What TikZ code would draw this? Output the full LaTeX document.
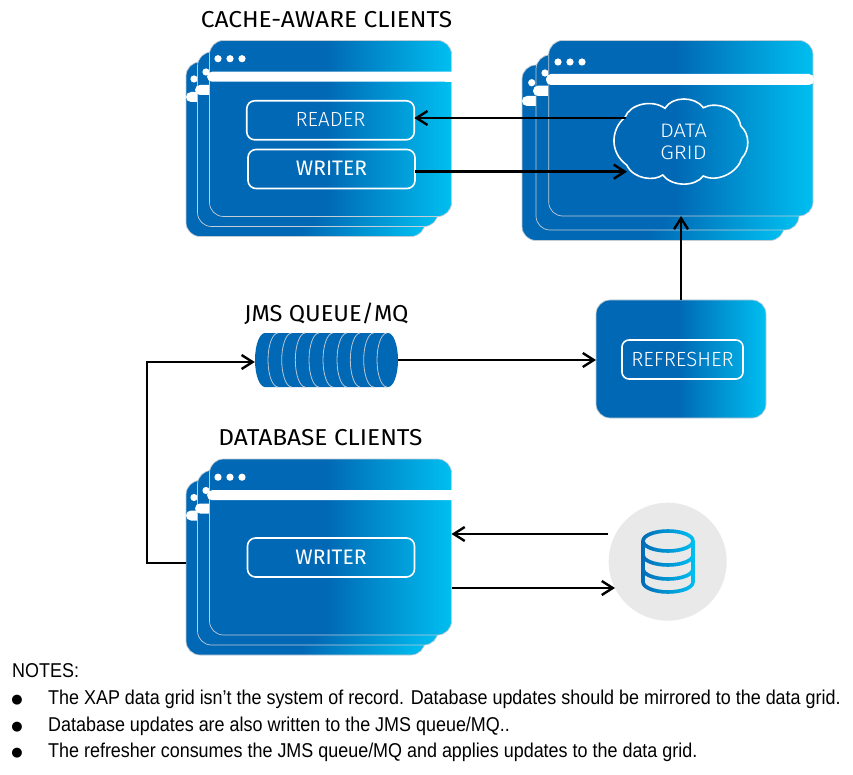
\documentclass[tikz,border=0pt]{standalone}
\usepackage{fontspec}
\setmainfont{Fira Sans}
\newfontfamily\notefont[FakeStretch=0.897]{Liberation Sans}
\newfontfamily\bulletfont{DejaVu Sans}
\newfontfamily\titlefont[FakeStretch=1.065]{Fira Sans}
\newfontfamily\lightfont{Fira Sans Light}
\newfontfamily\cloudfont[FakeStretch=1.12]{Fira Sans Light}
\usetikzlibrary{arrows.meta}
\definecolor{cardblue}{HTML}{0068B5}
\definecolor{cardcyan}{HTML}{00BFF0}
\definecolor{cardedge}{HTML}{C4CDD6}
\definecolor{ringline}{HTML}{B9C6D2}
\definecolor{dbcircle}{HTML}{E9E9E9}
\pgfdeclarehorizontalshading{cardgrad}{100bp}{
  color(0bp)=(cardblue); color(25bp)=(cardblue); color(49bp)=(cardblue);
  color(75bp)=(cardcyan); color(100bp)=(cardcyan)}
\tikzset{
  cardbox/.style={rectangle,rounded corners=14pt,shading=cardgrad,draw=cardedge,line width=0.7pt,inner sep=0pt,outer sep=0pt},
  innerbox/.style={rectangle,rounded corners=8pt,draw=white,line width=1.6pt,text=white,inner sep=0pt,outer sep=0pt,font=\fontsize{21}{24}\selectfont},
  lightbox/.style={innerbox,font=\lightfont\fontsize{20.5}{24}\selectfont},
  titletext/.style={inner sep=0pt,font=\titlefont\fontsize{23}{26}\selectfont},
  notetext/.style={inner sep=0pt,anchor=base west,font=\notefont\fontsize{20}{24}\selectfont},
  bulletmark/.style={inner sep=0pt,anchor=base,font=\bulletfont\fontsize{13}{14}\selectfont},
  arr/.style={draw=black,line width=2.6pt,-{Straight Barb[length=11pt,width=14pt,line width=2.4pt]}},
  barshape/.style={fill=white,rounded corners=5pt},
  ringarc/.style={draw=ringline,line width=0.8pt},
}
\newcommand{\cardat}[5]{\node[cardbox,minimum width={(#4-#2)*1pt},minimum height={(#5-#3)*1pt}] (#1) at ({(#2+#4)/2},{(#3+#5)/2}) {};}
\newcommand{\threedots}[2]{\foreach \dx in {0,12,24}{\fill[white] ({#1+\dx},#2) circle (3.6);}}
\newcommand{\halfoval}[1]{(643,#1) .. controls (643,{#1+5.5}) and (654.2,{#1+10}) .. (668,{#1+10}) .. controls (681.8,{#1+10}) and (693,{#1+5.5}) .. (693,#1)}
\newcommand{\iconpath}{
  (668,541) ellipse [x radius=25,y radius=10]
  (643,541) -- (643,582) .. controls (643,587.5) and (654.2,592) .. (668,592) .. controls (681.8,592) and (693,587.5) .. (693,582) -- (693,541)
  \halfoval{555} \halfoval{569}
}
\begin{document}
\begin{tikzpicture}[x=1pt,y=-1pt]
\useasboundingbox (0,0) rectangle (853,775);
\fill[white] (0,0) rectangle (853,775);

% cache-aware clients
\cardat{cacheback}{186}{62}{425}{236.5}
\fill[white] (194,79) circle (3.6);
\fill[barshape] (186,92) rectangle (215,102);
\cardat{cachemid}{197.5}{52}{438}{226.5}
\fill[white] (206,72) circle (3.6);
\fill[barshape] (195,85) rectangle (225,95);
\cardat{cachefront}{209.5}{40.5}{451.5}{216.5}
\threedots{218}{58.7}
\fill[barshape] (207,71.7) rectangle (456,81.7);
\fill[white] (445,71.7) rectangle (451.5,81.7);
\node[lightbox,minimum width=167.5pt,minimum height=39pt] (reader) at (330.5,120.3) {\raisebox{1pt}{READER}};
\node[innerbox,minimum width=167pt,minimum height=39pt] (writer) at (331.5,169) {\raisebox{1pt}{WRITER}};
\node[titletext] (cachetitle) at (326.5,19.5) {CACHE-AWARE CLIENTS};

% data grid
\cardat{gridback}{522}{65}{784}{240.5}
\fill[white] (531.7,82.7) circle (3.6);
\fill[barshape] (522,96) rectangle (550,106);
\cardat{gridmid}{536}{55}{799}{230}
\fill[white] (545,73) circle (3.6);
\fill[barshape] (533,85.7) rectangle (560,96);
\cardat{gridfront}{548.7}{40.5}{813}{216}
\threedots{558}{62}
\fill[barshape] (546,74) rectangle (814,85);
\draw[white,line width=1.6pt] (625,117.3)
  .. controls (630,104) and (652,99) .. (665,108.3)
  .. controls (672,96) and (695,96) .. (703.3,107.7)
  .. controls (716,101) and (738,108) .. (740.7,126)
  .. controls (750,134) and (750,150) .. (741.7,158.3)
  .. controls (738,172) and (718,183) .. (703.3,176)
  .. controls (695,187) and (672,187) .. (662.7,175)
  .. controls (655,181) and (634,180) .. (626.7,165)
  .. controls (610,153) and (610,130) .. (625,117.3) -- cycle;
\node[inner sep=0pt,align=center,text=white,font=\cloudfont\fontsize{19.5}{22}\selectfont] (cloud) at (683.5,141.5) {DATA\\GRID};
\coordinate (cloudout) at (626,118);
\coordinate (cloudin) at (627,171.7);
\coordinate (gridentry) at (681,216);

% queue
\fill[cardblue] (265,333) -- (388,333) .. controls (393.5,333) and (398,345.1) .. (398,360) .. controls (398,374.9) and (393.5,387) .. (388,387) -- (265,387) .. controls (259.5,387) and (255,374.9) .. (255,360) .. controls (255,345.1) and (259.5,333) .. (265,333) -- cycle;
\node[inner sep=0pt,minimum width=143pt,minimum height=54pt] (queue) at (326.5,360) {};
\foreach \rx in {268,281.7,295.3,309,323,337,350.3,363.7,377}{
  \draw[ringarc] ({\rx+10},333) .. controls ({\rx+4.5},333) and (\rx,345.1) .. (\rx,360) .. controls (\rx,374.9) and ({\rx+4.5},387) .. ({\rx+10},387);
}
\node[titletext,xscale=0.965] (queuetitle) at (326.5,313.5) {JMS QUEUE/MQ};

% refresher
\node[cardbox,minimum width=170pt,minimum height=118pt] (refreshcard) at (681,359) {};
\node[lightbox,minimum width=121pt,minimum height=39pt,rounded corners=7pt] (refresher) at (682.5,359.5) {\raisebox{1pt}{REFRESHER}};

% database clients
\cardat{dbback}{186}{480.5}{425}{655}
\fill[white] (194,497.5) circle (3.6);
\fill[barshape] (186,510.5) rectangle (215,520.5);
\cardat{dbmid}{197.5}{470.5}{438}{645}
\fill[white] (206,490.5) circle (3.6);
\fill[barshape] (195,503.5) rectangle (225,513.5);
\cardat{dbfront}{209.5}{459}{451.5}{635}
\threedots{218}{477.2}
\fill[barshape] (207,490.2) rectangle (456,500.2);
\fill[white] (445,490.2) rectangle (451.5,500.2);
\node[innerbox,minimum width=167pt,minimum height=39pt] (dbwriter) at (331,557.5) {\raisebox{1pt}{WRITER}};
\node[titletext] (dbtitle) at (320.5,437.5) {DATABASE CLIENTS};

% database
\node[circle,fill=dbcircle,minimum size=118pt,inner sep=0pt,outer sep=0pt] (dbcircle) at (667.7,561.7) {};
\foreach \i in {0,...,27}{
  \pgfmathsetmacro{\pc}{\i*100/27}
  \begin{scope}
    \clip ({639+\i*2},525) rectangle ({641.3+\i*2},598);
    \draw[color=cardcyan!\pc!cardblue,line width=3.6pt] \iconpath;
  \end{scope}
}

% connectors
\draw[arr] (cloudout) -- (cloudout -| reader.east);
\draw[arr] (cloudin -| writer.east) -- (cloudin);
\draw[arr] (refreshcard.north) -- (gridentry);
\draw[arr] (queue.east) -- (queue.east -| refreshcard.west);
\draw[arr] (dbback.west |- 0,563) -- (147,563) -- (147,362) -- (queue.west |- 0,362);
\coordinate (dbtop) at (608,534);
\coordinate (dbbot) at (615,588);
\draw[arr] (dbtop) -- (dbtop -| dbfront.east);
\draw[arr] (dbbot -| dbfront.east) -- (dbbot);

% notes
\node[notetext] (n0) at (12,677.7) {NOTES:};
\node[bulletmark] (b1) at (17,703.7) {●};
\node[bulletmark] (b2) at (17,730.7) {●};
\node[bulletmark] (b3) at (17,756.7) {●};
\node[notetext] (n1) at (48,704.5) {The XAP data grid isn’t the system of record. Database updates should be mirrored to the data grid.};
\node[notetext] (n2) at (48,731.5) {Database updates are also written to the JMS queue/MQ..};
\node[notetext] (n3) at (48,757.7) {The refresher consumes the JMS queue/MQ and applies updates to the data grid.};
\end{tikzpicture}
\end{document}
